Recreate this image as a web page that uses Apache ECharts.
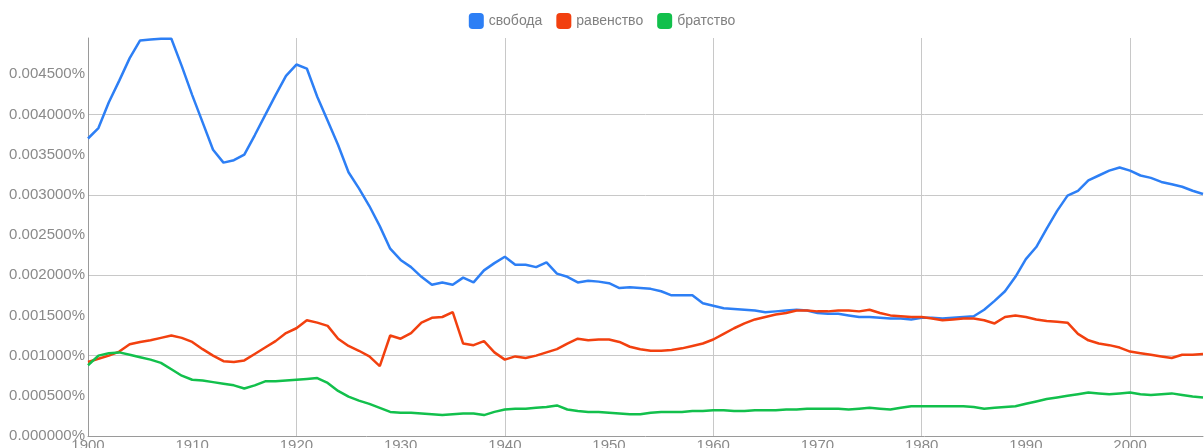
<!DOCTYPE html>
<html>
<head>
<meta charset="utf-8">
<script src="https://cdn.jsdelivr.net/npm/echarts@6/dist/echarts.min.js"></script>
<style>
  html, body { margin: 0; padding: 0; background: #fff; }
  #chart { width: 1204px; height: 448px; }
</style>
</head>
<body>
<div id="chart"></div>
<script>
  // years 1900..2007, values in units of 0.001 %
  var firstYear = 1900
  var seriesNames = ['свобода', 'равенство', 'братство']
  var colors = ['#2d7ff5', '#f2400f', '#12c04c']
  var xLabelYears = [1900, 1910, 1920, 1930, 1940, 1950, 1960, 1970, 1980, 1990, 2000]
  var xGridYears = [1900, 1920, 1940, 1960, 1980, 2000]
  var yLabelValues = [0, 0.5, 1, 1.5, 2, 2.5, 3, 3.5, 4, 4.5]
  var yGridValues = [1, 2, 3, 4]

  var svoboda = [
    3.70, 3.83, 4.15, 4.42, 4.70, 4.92, 4.93, 4.94, 4.94, 4.60,
    4.24, 3.90, 3.56, 3.40, 3.43, 3.50, 3.74, 3.99, 4.24, 4.48,
    4.62, 4.57, 4.22, 3.92, 3.62, 3.28, 3.08, 2.86, 2.61, 2.33,
    2.19, 2.10, 1.98, 1.88, 1.91, 1.88, 1.97, 1.91, 2.06, 2.15,
    2.23, 2.13, 2.13, 2.10, 2.16, 2.02, 1.98, 1.91, 1.93, 1.92,
    1.90, 1.84, 1.85, 1.84, 1.83, 1.80, 1.75, 1.75, 1.75, 1.65,
    1.62, 1.59, 1.58, 1.57, 1.56, 1.54, 1.55, 1.56, 1.57, 1.56,
    1.53, 1.52, 1.52, 1.50, 1.48, 1.48, 1.47, 1.46, 1.46, 1.45,
    1.47, 1.47, 1.46, 1.47, 1.48, 1.49, 1.57, 1.68, 1.80, 1.98,
    2.20, 2.35, 2.58, 2.80, 2.99, 3.05, 3.18, 3.24, 3.30, 3.34,
    3.30, 3.24, 3.21, 3.16, 3.13, 3.10, 3.05, 3.01
  ]
  var ravenstvo = [
    0.92, 0.96, 1.00, 1.05, 1.14, 1.17, 1.19, 1.22, 1.25, 1.22,
    1.17, 1.08, 1.00, 0.93, 0.92, 0.94, 1.02, 1.10, 1.18, 1.28,
    1.34, 1.44, 1.41, 1.37, 1.21, 1.12, 1.06, 0.99, 0.87, 1.25,
    1.21, 1.28, 1.41, 1.47, 1.48, 1.54, 1.15, 1.13, 1.18, 1.04,
    0.95, 0.99, 0.97, 1.00, 1.04, 1.08, 1.15, 1.21, 1.19, 1.20,
    1.20, 1.17, 1.11, 1.08, 1.06, 1.06, 1.07, 1.09, 1.12, 1.15,
    1.20, 1.27, 1.34, 1.40, 1.45, 1.48, 1.51, 1.53, 1.56, 1.56,
    1.55, 1.55, 1.56, 1.56, 1.55, 1.57, 1.53, 1.50, 1.49, 1.48,
    1.48, 1.46, 1.44, 1.45, 1.46, 1.46, 1.44, 1.40, 1.48, 1.50,
    1.48, 1.45, 1.43, 1.42, 1.41, 1.27, 1.19, 1.15, 1.13, 1.10,
    1.05, 1.03, 1.01, 0.99, 0.97, 1.01, 1.01, 1.02
  ]
  var bratstvo = [
    0.88, 1.00, 1.03, 1.04, 1.01, 0.98, 0.95, 0.91, 0.83, 0.75,
    0.70, 0.69, 0.67, 0.65, 0.63, 0.59, 0.63, 0.68, 0.68, 0.69,
    0.70, 0.71, 0.72, 0.66, 0.56, 0.49, 0.44, 0.40, 0.35, 0.30,
    0.29, 0.29, 0.28, 0.27, 0.26, 0.27, 0.28, 0.28, 0.26, 0.30,
    0.33, 0.34, 0.34, 0.35, 0.36, 0.38, 0.33, 0.31, 0.30, 0.30,
    0.29, 0.28, 0.27, 0.27, 0.29, 0.30, 0.30, 0.30, 0.31, 0.31,
    0.32, 0.32, 0.31, 0.31, 0.32, 0.32, 0.32, 0.33, 0.33, 0.34,
    0.34, 0.34, 0.34, 0.33, 0.34, 0.35, 0.34, 0.33, 0.35, 0.37,
    0.37, 0.37, 0.37, 0.37, 0.37, 0.36, 0.34, 0.35, 0.36, 0.37,
    0.40, 0.43, 0.46, 0.48, 0.50, 0.52, 0.54, 0.53, 0.52, 0.53,
    0.54, 0.52, 0.51, 0.52, 0.53, 0.51, 0.49, 0.48
  ]

  function toPairs(values) {
    return values.map(function (v, i) {
      return [firstYear + i, v]
    })
  }

  var chart = echarts.init(document.getElementById('chart'), null, { renderer: 'canvas' })

  var labelStyle = {
    color: '#8a8a8a',
    fontSize: 15,
    fontFamily: 'Liberation Sans, Arial, sans-serif',
  }

  var option = {
    animation: false,
    color: colors,
    legend: {
      top: 8,
      left: 'center',
      itemWidth: 15,
      itemHeight: 16,
      itemGap: 14,
      icon: 'roundRect',
      textStyle: {
        color: '#808080',
        fontSize: 14,
        fontFamily: 'Liberation Sans, Arial, sans-serif',
      },
      data: seriesNames,
    },
    grid: {
      left: 88,
      right: 1,
      top: 38,
      bottom: 12,
      outerBoundsMode: 'none',
      containLabel: false,
    },
    xAxis: [
      {
        type: 'value',
        min: 1900,
        max: 2007,
        axisLine: { show: true, lineStyle: { color: '#9a9a9a', width: 1 } },
        axisTick: { show: false, customValues: xLabelYears },
        splitLine: { show: false },
        axisLabel: Object.assign({
          margin: 2,
          customValues: xLabelYears,
          formatter: function (v) {
            return String(v)
          },
        }, labelStyle),
      },
      {
        type: 'value',
        min: 1900,
        max: 2007,
        position: 'top',
        axisLine: { show: false },
        axisTick: { show: false, customValues: xGridYears },
        axisLabel: { show: false, customValues: xGridYears },
        splitLine: { show: true, lineStyle: { color: '#c8c8c8', width: 1 } },
      },
    ],
    yAxis: [
      {
        type: 'value',
        min: 0,
        max: 4.95,
        axisLine: { show: true, lineStyle: { color: '#9a9a9a', width: 1 } },
        axisTick: { show: false, customValues: yLabelValues },
        splitLine: { show: false },
        axisLabel: Object.assign({
          margin: 3,
          customValues: yLabelValues,
          formatter: function (v) {
            return (v / 1000).toFixed(6) + '%'
          },
        }, labelStyle),
      },
      {
        type: 'value',
        min: 0,
        max: 4.95,
        position: 'right',
        axisLine: { show: false },
        axisTick: { show: false, customValues: yGridValues },
        axisLabel: { show: false, customValues: yGridValues },
        splitLine: { show: true, lineStyle: { color: '#c8c8c8', width: 1 } },
      },
    ],
    series: [
      {
        name: seriesNames[0],
        type: 'line',
        showSymbol: false,
        lineStyle: { width: 2.5 },
        data: toPairs(svoboda),
      },
      {
        name: seriesNames[1],
        type: 'line',
        showSymbol: false,
        lineStyle: { width: 2.5 },
        data: toPairs(ravenstvo),
      },
      {
        name: seriesNames[2],
        type: 'line',
        showSymbol: false,
        lineStyle: { width: 2.5 },
        data: toPairs(bratstvo),
      },
    ],
  }
  chart.setOption(option)
</script>
</body>
</html>
